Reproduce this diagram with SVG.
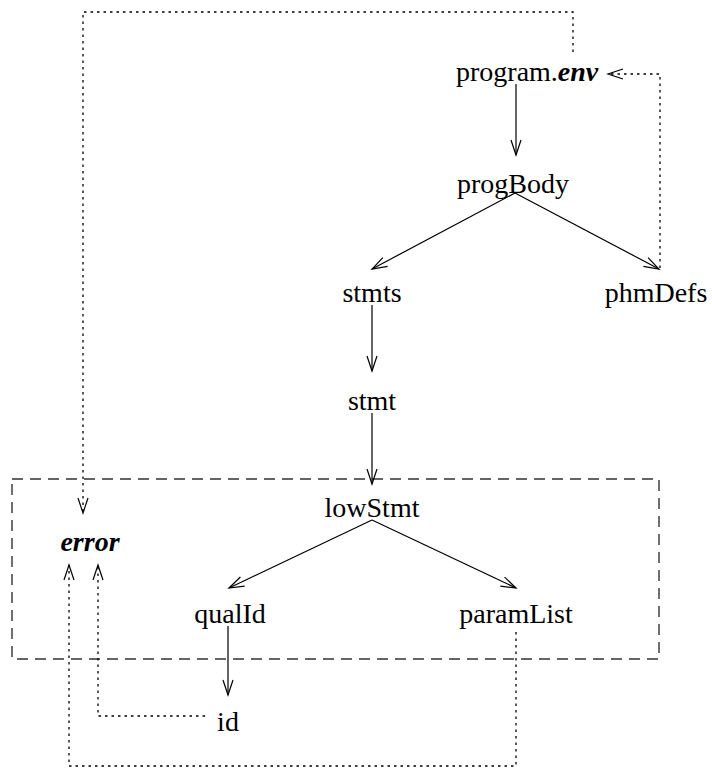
<svg xmlns="http://www.w3.org/2000/svg" width="712" height="769" viewBox="0 0 712 769">
  <style>
    .lbl { font-family: "Liberation Serif", "Times New Roman", serif; font-size: 28px; fill: #000; text-anchor: middle; }
    .bi { font-weight: bold; font-style: italic; }
    .edge { fill: none; stroke: #000; stroke-width: 1.2; }
    .dot { fill: none; stroke: #000; stroke-width: 1.3; stroke-dasharray: 2.5 4; }
    .box { fill: none; stroke: #333; stroke-width: 1.4; stroke-dasharray: 11 7; }
  </style>
  <defs>
    <marker id="arr" markerUnits="userSpaceOnUse" orient="auto" markerWidth="20" markerHeight="14" refX="0" refY="0" viewBox="-17 -7 20 14" overflow="visible">
      <path d="M-15,-5 L0,0 L-15,5" fill="none" stroke="#000" stroke-width="1.2"/>
    </marker>
  </defs>

  <!-- grouping box -->
  <rect class="box" x="12" y="479" width="647" height="180"/>

  <g id="connectors">
    <!-- tree edges -->
    <line class="edge" x1="516" y1="84" x2="516" y2="155" marker-end="url(#arr)"/>
    <line class="edge" x1="515" y1="193" x2="372" y2="269" marker-end="url(#arr)"/>
    <line class="edge" x1="515" y1="193" x2="659" y2="269" marker-end="url(#arr)"/>
    <line class="edge" x1="372" y1="305" x2="372" y2="371" marker-end="url(#arr)"/>
    <line class="edge" x1="372" y1="413" x2="372" y2="484" marker-end="url(#arr)"/>
    <line class="edge" x1="372" y1="520" x2="229" y2="588" marker-end="url(#arr)"/>
    <line class="edge" x1="372" y1="520" x2="516" y2="588" marker-end="url(#arr)"/>
    <line class="edge" x1="228" y1="626" x2="228" y2="695" marker-end="url(#arr)"/>
    <!-- dependency links -->
    <path class="dot" d="M660,268 V74 H608" marker-end="url(#arr)"/>
    <path class="dot" d="M573,52 V12 H83 V513" marker-end="url(#arr)"/>
    <path class="dot" d="M205,716 H98 V565" marker-end="url(#arr)"/>
    <path class="dot" d="M516,632 V766 H69 V565" marker-end="url(#arr)"/>
  </g>

  <g id="program"><text class="lbl" x="456" y="81" style="text-anchor:start">program.<tspan class="bi">env</tspan></text></g>
  <g id="progBody"><text class="lbl" x="513" y="193">progBody</text></g>
  <g id="stmts"><text class="lbl" x="372" y="302">stmts</text></g>
  <g id="phmDefs"><text class="lbl" x="656" y="302">phmDefs</text></g>
  <g id="stmt"><text class="lbl" x="372" y="410">stmt</text></g>
  <g id="lowStmt"><text class="lbl" x="372" y="517">lowStmt</text></g>
  <g id="error"><text class="lbl bi" x="90" y="551">error</text></g>
  <g id="qualId"><text class="lbl" x="230" y="623">qualId</text></g>
  <g id="paramList"><text class="lbl" x="516" y="623">paramList</text></g>
  <g id="id"><text class="lbl" x="228" y="731">id</text></g>
</svg>
